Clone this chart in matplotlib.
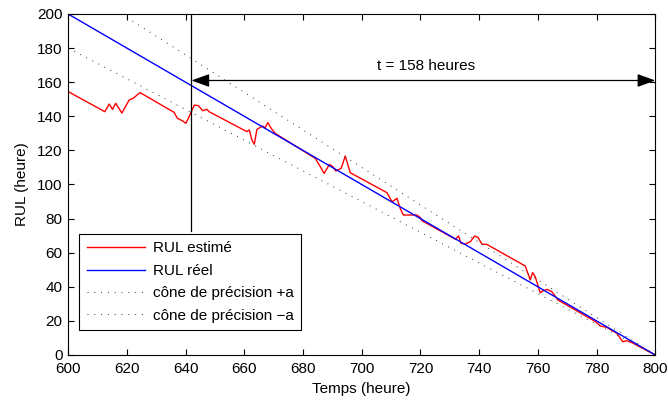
import numpy as np
import matplotlib
matplotlib.use('Agg')
import matplotlib.pyplot as plt

plt.rcParams['font.family'] = ['Liberation Sans', 'DejaVu Sans']

# RUL estimé
t_est = [600, 612.5, 614, 615.1, 616.2, 618.3, 620.8, 622.1, 624.5, 636.1, 637.2,
         638.9, 640.1, 641.2, 643, 644.4, 645.8, 647.3, 648, 660.9, 661.7, 662.6,
         663.4, 664.3, 666.2, 667.1, 668, 669.2, 670.5, 684.2, 685.9, 687.2, 689,
         690.2, 691.2, 693, 694.4, 696.1, 708.6, 710.3, 711.2, 712, 713.1, 714.2,
         718.8, 719.9, 720.5, 731.9, 733, 733.8, 735.3, 737, 738.5, 739.6, 741,
         742.6, 755.7, 757.4, 758.2, 759.1, 760.8, 761.6, 763.1, 764.8, 766.8,
         779.6, 781.3, 783.5, 786.9, 788.9, 790.3, 792.1, 800]
rul_est = [154.5, 142.7, 147.2, 144.1, 147.6, 141.9, 149.6, 150.5, 153.9, 142.3, 138.8,
           137.4, 135.9, 139.8, 146.6, 146.2, 143.3, 144.1, 142.7, 131, 132, 126.1,
           123.6, 132.3, 134.3, 133.3, 136.3, 132.9, 130, 115.3, 110.4, 106.5, 111.8,
           110.4, 107.9, 109.5, 116.7, 106.9, 95.2, 89.9, 90.9, 91.9, 86, 82.1,
           82.1, 80.7, 78.8, 67.9, 69.8, 65.5, 65.1, 66.5, 69.8, 69, 64.9,
           64.9, 52.2, 44, 48.3, 45.9, 36.5, 37.5, 38.5, 37.1, 32.3,
           19.6, 17, 16.2, 12.7, 7.8, 8.4, 7.2, 0]

# RUL réel et cône de précision (a = 10 %)
t_reel = [600, 800]
rul_reel = [200, 0]
cone_plus = [220, 0]
cone_moins = [180, 0]

t_pred = 642
rul_fin = 158

fs = 11

fig = plt.figure(figsize=(6.68, 4.0), dpi=100)
ax = fig.add_axes([0.102, 0.1125, 0.879, 0.8525])

ax.plot(t_est, rul_est, color='red', lw=1.0, label='RUL estimé')
ax.plot(t_reel, rul_reel, color='blue', lw=1.0, label='RUL réel')
ax.plot(t_reel, cone_plus, color='#333333', lw=0.7, ls=(0, (1, 6)), label='cône de précision +a')
ax.plot(t_reel, cone_moins, color='#333333', lw=0.7, ls=(0, (1, 6)), label='cône de précision \u2212a')

ax.plot([t_pred, t_pred], [73, 200], color='k', lw=0.9)
ax.annotate('', xy=(t_pred, 161), xytext=(800, 161),
            arrowprops=dict(arrowstyle='<|-|>,head_length=1.1,head_width=0.4',
                            color='k', lw=0.9, shrinkA=0, shrinkB=0))
ax.text(722, 169.5, 't = %d heures' % rul_fin, ha='center', va='center', fontsize=fs)

ax.set_xlim(600, 800)
ax.set_ylim(0, 200)
ax.set_xticks(np.arange(600, 801, 20))
ax.set_yticks(np.arange(0, 201, 20))
ax.tick_params(direction='in', top=True, right=True, labelsize=fs, length=4)
ax.tick_params(axis='x', pad=5)
ax.tick_params(axis='y', pad=4)
ax.set_xlabel('Temps (heure)', fontsize=fs, labelpad=4)
ax.set_ylabel('RUL (heure)', fontsize=fs, labelpad=6)

leg = ax.legend(loc='lower left', bbox_to_anchor=(0.006, 0.05), fontsize=fs,
                fancybox=False, edgecolor='k', framealpha=1, handlelength=3.8,
                borderpad=0.5, labelspacing=0.55, handletextpad=0.5)
leg.get_frame().set_linewidth(0.8)

fig.savefig('out.png', dpi=100)
